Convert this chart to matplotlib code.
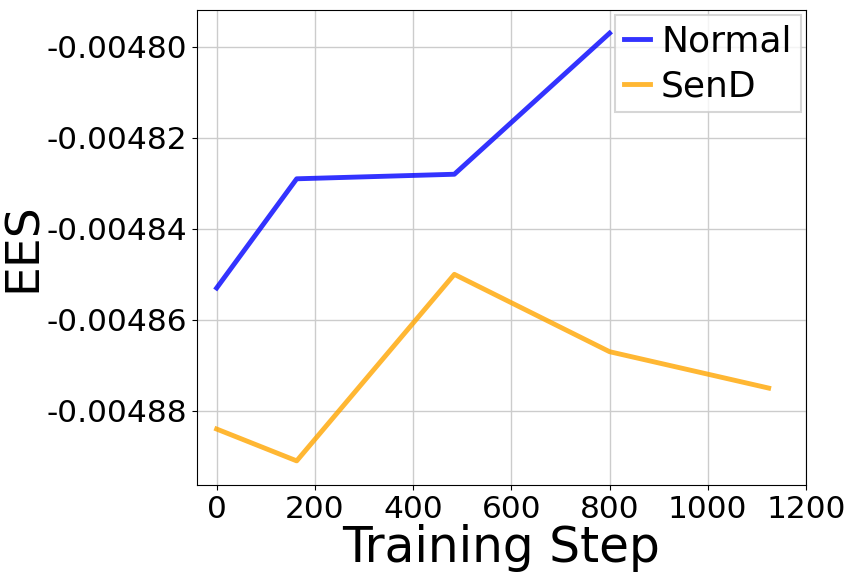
import matplotlib
matplotlib.use("Agg")
import matplotlib.pyplot as plt

steps_normal = [0, 163, 484, 800]
ees_normal = [-0.004853, -0.004829, -0.004828, -0.004797]
steps_send = [0, 163, 484, 800, 1124]
ees_send = [-0.004884, -0.004891, -0.004850, -0.004867, -0.004875]
xticks = [0, 200, 400, 600, 800, 1000, 1200]
yticks = [-0.00488, -0.00486, -0.00484, -0.00482, -0.00480]

fig = plt.figure(figsize=(8.47, 5.76), dpi=100)
ax = fig.add_axes([197/847, 1-485/576, (806-197)/847, (485-10)/576])
ax.plot(steps_normal, ees_normal, color="blue", alpha=0.8, lw=3.5, label="Normal")
ax.plot(steps_send, ees_send, color="orange", alpha=0.8, lw=3.5, label="SenD")
ax.set_xlim(-40, 1200)
ax.set_ylim(-0.0048963, -0.0047919)
ax.set_xticks(xticks)
ax.set_yticks(yticks)
ax.set_yticklabels([f"{v:.5f}" for v in yticks])
ax.tick_params(labelsize=22.5)
ax.grid(True, color="#cccccc", lw=1)
ax.set_xlabel("Training Step", fontsize=35, labelpad=0)
ax.set_ylabel("EES", fontsize=34)
ax.yaxis.set_label_coords(-(197 - 46) / 609, 0.5)
leg = ax.legend(fontsize=26, loc="upper right", handlelength=0.72, handletextpad=0.3,
                borderpad=0.25, labelspacing=0.3, borderaxespad=0.15, fancybox=False)
leg.get_frame().set_linewidth(1.5)
fig.savefig("out.png", dpi=100)
